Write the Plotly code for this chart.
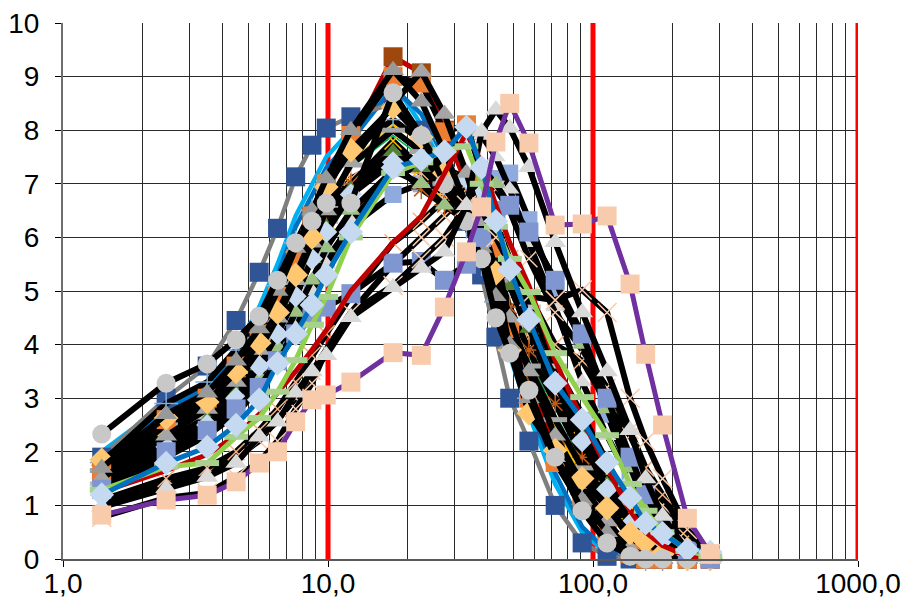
import plotly.graph_objects as go

# Particle size classes (µm) shared by every sample
size_um = [1.4, 2.45, 3.5, 4.5, 5.5, 6.45, 7.55, 8.7, 9.85, 12.2, 17.6, 22.5, 27.5,
           33.3, 38.0, 43.0, 48.5, 57.3, 72.0, 91.0, 113.0, 138.0, 158.0, 183.0, 227.0, 277.0]

# Frequency (%) per size class for each sample
navy_sq = [1.9, 3.0, 3.6, 4.45, 5.35, 6.17, 7.13, 7.72, 8.04, 8.25, 8.5, 8.0, 7.2,
           6.3, 5.3, 4.14, 3.0, 2.2, 1.0, 0.3, 0.05, 0, 0, 0, 0, 0]
gray_circ = [2.33, 3.28, 3.64, 4.09, 4.53, 5.2, 5.9, 6.3, 6.64, 6.64, 8.7, 7.9, 7.0,
             6.3, 5.6, 4.5, 3.84, 3.15, 1.9, 0.9, 0.3, 0.05, 0, 0, 0, 0]
sky_line = [2.0, 2.9, 3.3, 3.9, 4.7, 5.5, 6.4, 7.0, 7.5, 8.0, 8.9, 8.1, 7.3,
            6.5, 5.7, 4.8, 3.8, 2.7, 1.4, 0.5, 0.1, 0, 0, 0, 0, 0]
blue_line = [1.85, 2.8, 3.2, 3.8, 4.5, 5.3, 6.2, 6.8, 7.3, 7.8, 8.8, 8.3, 7.5,
             6.7, 5.9, 5.0, 4.0, 2.9, 1.6, 0.6, 0.15, 0, 0, 0, 0, 0]
gold_dia = [1.85, 2.63, 2.93, 3.49, 4.03, 4.6, 5.3, 6.0, 6.94, 7.63, 8.43, 7.87, 7.2,
            6.4, 5.9, 5.33, 3.9, 2.72, 2.03, 1.5, 0.95, 0.48, 0.32, 0.1, 0, 0]
orange_sq = [1.6, 2.6, 3.0, 3.6, 4.2, 4.9, 5.6, 6.4, 7.0, 7.9, 9.0, 8.88, 7.97,
             8.1, 7.2, 5.8, 4.3, 3.0, 1.8, 1.0, 0.45, 0.1, 0, 0, 0, 0]
brown_sq = [1.5, 2.4, 2.9, 3.4, 4.0, 4.7, 5.4, 6.1, 6.8, 7.8, 9.37, 9.07, 8.0,
            7.0, 6.2, 5.3, 4.3, 3.3, 2.1, 1.2, 0.5, 0.15, 0, 0, 0, 0]
gray_tri = [1.7, 2.7, 3.1, 3.7, 4.3, 5.0, 5.8, 6.5, 7.1, 8.0, 9.12, 8.53, 7.6,
            6.6, 5.8, 4.9, 4.0, 3.0, 1.9, 1.1, 0.5, 0.1, 0, 0, 0, 0]
gray_tri2 = [1.5, 2.3, 2.8, 3.3, 3.9, 4.5, 5.2, 5.9, 6.5, 7.4, 8.5, 9.09, 8.3,
             7.2, 6.3, 5.4, 4.5, 3.5, 2.3, 1.4, 0.7, 0.2, 0.05, 0, 0, 0]
ice_dia = [1.2, 1.79, 2.09, 2.5, 2.97, 3.65, 4.2, 4.74, 5.3, 6.1, 7.3, 7.45, 7.6,
           8.06, 7.3, 6.3, 5.4, 4.46, 3.28, 2.6, 1.8, 1.14, 0.67, 0.48, 0.17, 0.13]
lime_dash = [1.29, 1.72, 1.79, 2.28, 2.63, 3.12, 3.71, 4.37, 4.89, 6.0, 7.2, 7.4, 7.63,
             7.7, 7.0, 6.2, 5.6, 4.98, 3.84, 3.02, 2.31, 1.4, 0.9, 0.5, 0.15, 0.05]
red_line = [1.25, 1.65, 1.95, 2.3, 2.7, 3.1, 3.5, 3.9, 4.27, 5.0, 5.9, 6.4, 7.2,
            7.95, 7.4, 6.6, 5.9, 5.1, 3.7, 2.6, 1.7, 0.9, 0.5, 0.25, 0.05, 0]
pink_sq = [0.82, 1.1, 1.19, 1.44, 1.79, 2.0, 2.56, 2.97, 3.06, 3.3, 3.85, 3.8, 4.7,
           5.73, 6.57, 7.78, 8.5, 7.76, 6.23, 6.25, 6.4, 5.13, 3.82, 2.5, 0.76, 0.1]
low_tri = [0.97, 1.32, 1.53, 1.79, 2.28, 2.56, 3.1, 3.5, 3.8, 4.51, 5.07, 5.43, 5.73,
           6.6, 7.97, 8.38, 8.04, 7.31, 5.91, 4.6, 3.5, 2.4, 1.5, 0.8, 0.15, 0]
low_x = [0.78, 1.14, 1.23, 1.53, 1.81, 2.2, 2.8, 3.28, 3.9, 4.6, 5.1, 5.6, 6.0,
         6.6, 6.5, 6.0, 5.5, 4.9, 4.83, 5.02, 4.6, 3.0, 2.2, 1.5, 0.55, 0.1]
peri_sq = [1.3, 2.0, 2.4, 2.8, 3.2, 3.7, 4.2, 4.5, 4.7, 4.95, 5.52, 5.55, 5.2,
           5.5, 6.0, 6.5, 6.6, 6.1, 5.2, 4.2, 3.0, 1.9, 1.2, 0.6, 0.15, 0]
peri_sq2 = [1.5, 2.2, 2.6, 3.0, 3.4, 3.9, 4.5, 5.1, 5.6, 6.2, 6.8, 7.0, 6.9,
            6.7, 6.9, 7.1, 7.2, 6.33, 5.0, 4.1, 2.7, 1.6, 1.0, 0.5, 0.1, 0]
dash_gray = [1.65, 2.5, 2.95, 3.5, 4.1, 4.8, 5.5, 6.1, 6.6, 7.35, 8.0, 7.6, 7.0,
             6.6, 6.0, 5.2, 4.4, 3.6, 2.6, 1.7, 0.95, 0.4, 0.15, 0.05, 0, 0]
green_tri = [1.45, 2.2, 2.6, 3.1, 3.6, 4.2, 4.9, 5.6, 6.2, 6.9, 7.6, 7.3, 6.95,
             6.3, 5.9, 5.6, 5.1, 4.3, 3.3, 2.3, 1.4, 0.7, 0.3, 0.1, 0, 0]
sage_tri = [1.35, 2.05, 2.45, 2.9, 3.4, 3.95, 4.6, 5.2, 5.8, 6.5, 7.25, 7.0, 6.6,
            6.7, 7.3, 7.0, 6.6, 6.1, 5.2, 4.0, 2.8, 1.7, 1.0, 0.5, 0.1, 0]
orange_star = [1.75, 2.55, 2.9, 3.4, 3.9, 4.5, 5.3, 6.0, 6.5, 7.0, 7.4, 6.9, 6.6,
               6.3, 6.0, 5.5, 4.7, 3.9, 2.9, 1.9, 1.0, 0.4, 0.1, 0, 0, 0]
blue_plus = [1.8, 2.9, 3.3, 3.9, 4.4, 5.1, 5.9, 6.5, 7.0, 7.6, 8.2, 7.8, 7.0,
             6.2, 5.5, 4.8, 3.9, 3.0, 2.0, 1.2, 0.5, 0.1, 0, 0, 0, 0]
gold_x = [1.55, 2.45, 2.85, 3.35, 3.85, 4.4, 5.0, 5.7, 6.3, 7.0, 7.8, 7.3, 6.9,
          6.5, 6.1, 5.7, 5.1, 4.3, 3.4, 2.5, 1.6, 0.9, 0.4, 0.15, 0, 0]
green_thin = [1.6, 2.5, 2.9, 3.45, 4.0, 4.6, 5.3, 6.0, 6.6, 7.3, 7.9, 7.5, 7.0,
              6.5, 6.0, 5.3, 4.6, 3.8, 2.7, 1.8, 1.0, 0.4, 0.1, 0, 0, 0]
silver_dash = [1.4, 2.2, 2.65, 3.2, 3.7, 4.3, 5.0, 5.7, 6.3, 7.0, 7.6, 7.4, 7.1,
               7.0, 6.7, 6.2, 5.6, 4.7, 3.6, 2.7, 1.8, 1.0, 0.5, 0.2, 0.05, 0]
twin_x = [1.1, 1.5, 1.7, 2.0, 2.4, 2.8, 3.3, 3.8, 4.2, 4.9, 5.9, 6.3, 6.7,
          6.9, 6.6, 6.3, 5.6, 4.9, 4.0, 3.7, 2.9, 2.3, 1.7, 1.2, 0.4, 0.05]
apricot_star = [1.5, 2.35, 2.8, 3.3, 3.8, 4.4, 5.2, 5.9, 6.4, 7.1, 7.5, 7.2, 6.8,
                7.0, 6.5, 5.9, 5.1, 4.2, 3.1, 2.1, 1.2, 0.5, 0.2, 0.05, 0, 0]
gold_line = [1.7, 2.7, 3.1, 3.6, 4.2, 4.8, 5.5, 6.2, 6.7, 7.4, 8.1, 7.8, 7.3,
             6.7, 6.1, 5.4, 4.5, 3.6, 2.5, 1.5, 0.7, 0.2, 0, 0, 0, 0]
ice_dia2 = [1.35, 2.1, 2.5, 3.0, 3.6, 4.2, 4.9, 5.6, 6.1, 6.8, 7.4, 7.45, 7.3,
            7.1, 6.8, 6.2, 5.5, 4.5, 3.3, 2.2, 1.3, 0.65, 0.45, 0.35, 0.1, 0.05]
fog_tri = [1.2, 1.9, 2.3, 2.7, 3.2, 3.7, 4.3, 5.0, 5.5, 6.3, 7.2, 7.3, 7.5,
           7.85, 7.9, 7.5, 6.9, 5.9, 4.7, 3.3, 2.3, 1.5, 0.9, 0.4, 0.05, 0]
peach_x2 = [1.0, 1.4, 1.6, 1.9, 2.2, 2.6, 3.0, 3.5, 3.9, 4.6, 5.5, 6.0, 6.4,
            6.8, 6.9, 6.9, 6.5, 5.6, 4.6, 3.9, 3.2, 2.4, 1.7, 1.0, 0.3, 0.05]

# Axis ticks and the class limits drawn as red verticals
x_ticks = [1, 10, 100, 1000]
x_tick_text = ["1,0", "10,0", "100,0", "1000,0"]
limit_x = [10, 100, 1000]
limit_span = [0, 10]

BLACK = "#000000"
LINE_W = 6
OPEN_SYMBOLS = {"line-ew", "x-thin", "cross-thin", "asterisk"}

fig = go.Figure()

# red class limits sit underneath every sample
for lim in limit_x:
    fig.add_trace(go.Scatter(x=[lim, lim], y=limit_span, mode="lines",
                             line=dict(color="#FF0000", width=5),
                             cliponaxis=False, hoverinfo="skip"))


def add_sample(y, line_color, line_width, symbol=None, marker_color=None, open_width=2.0, size=17):
    if symbol is None:
        fig.add_trace(go.Scatter(x=size_um, y=y, mode="lines",
                                 line=dict(color=line_color, width=line_width),
                                 cliponaxis=False, hoverinfo="skip"))
        return
    if symbol in OPEN_SYMBOLS:
        marker = dict(symbol=symbol, size=size, color=marker_color,
                      line=dict(color=marker_color, width=open_width))
    else:
        marker = dict(symbol=symbol, size=size, color=marker_color, line=dict(width=0))
    fig.add_trace(go.Scatter(x=size_um, y=y, mode="lines+markers",
                             line=dict(color=line_color, width=line_width),
                             marker=marker, cliponaxis=False, hoverinfo="skip"))


# thin coloured lines and the outer samples underneath the bundle
add_sample(green_thin, "#00B050", 1.5)
add_sample(gold_line, "#FFC000", 2.5)
add_sample(sky_line, "#00B0F0", 4.5)
add_sample(blue_line, "#0070C0", 4.5)
add_sample(navy_sq, "#7F7F7F", 4.5, "square", "#2F5597", size=19)
add_sample(brown_sq, "#C00000", 5, "square", "#9E480E", size=19)

# black-line samples
add_sample(peri_sq2, BLACK, LINE_W, "square", "#8FAADC")
add_sample(fog_tri, BLACK, LINE_W, "triangle-up", "#D9D9D9")
add_sample(peach_x2, BLACK, LINE_W, "x-thin", "#F8CBAD", 1.5)
add_sample(twin_x, BLACK, LINE_W, "x-thin", "#F4B183", 1.5)
add_sample(silver_dash, BLACK, LINE_W, "line-ew", "#BFBFBF", 5)
add_sample(apricot_star, BLACK, LINE_W, "asterisk", "#F4B183", 1.5)
add_sample(gold_x, BLACK, LINE_W, "x-thin", "#FFC000", 1.5)
add_sample(blue_plus, BLACK, LINE_W, "cross-thin", "#7FAEDC", 1.5)
add_sample(orange_star, BLACK, LINE_W, "asterisk", "#C55A11", 1.5)
add_sample(sage_tri, BLACK, LINE_W, "triangle-up", "#9DC183")
add_sample(green_tri, BLACK, LINE_W, "triangle-up", "#548235")
add_sample(dash_gray, BLACK, LINE_W, "line-ew", "#A5A5A5", 5)
add_sample(ice_dia2, BLACK, LINE_W, "diamond", "#C5D9F1")
add_sample(orange_sq, BLACK, LINE_W, "square", "#ED7D31", size=19)
add_sample(gray_tri2, BLACK, LINE_W, "triangle-up", "#A5A5A5", size=19)
add_sample(gold_dia, BLACK, LINE_W, "diamond", "#FFC870", size=19)
add_sample(gray_tri, BLACK, LINE_W, "triangle-up", "#999999", size=19)
add_sample(gray_circ, BLACK, LINE_W, "circle", "#C8C8C8", size=19)
add_sample(peri_sq, BLACK, LINE_W, "square", "#7F96D0", size=19)
add_sample(low_x, BLACK, LINE_W, "x-thin", "#F8CBAD", 1.5, size=19)
add_sample(low_tri, BLACK, LINE_W, "triangle-up", "#D9D9D9", size=19)

# coloured-line samples on top
add_sample(red_line, "#C00000", 5)
add_sample(lime_dash, "#92D050", 5, "line-ew", "#A9D18E", 6)
add_sample(ice_dia, "#0070C0", 5, "diamond", "#C5D9F1", size=19)
add_sample(pink_sq, "#7030A0", 5, "square", "#F8CBAD", size=19)

tick_font = dict(family="Liberation Sans, Arial, sans-serif", size=28, color="#000000")

fig.update_layout(
    width=903, height=605,
    margin=dict(l=63, r=45, t=23, b=46, autoexpand=False),
    paper_bgcolor="white", plot_bgcolor="white",
    showlegend=False, hovermode=False,
    xaxis=dict(type="log", range=[0, 3], tickvals=x_ticks, ticktext=x_tick_text,
               automargin=False, showgrid=False, zeroline=False,
               minor=dict(dtick="D1", showgrid=True, gridcolor="#2a2a2a", gridwidth=1.2, ticks=""),
               ticks="outside", ticklen=6, tickcolor="#000000", tickwidth=1.2,
               tickfont=tick_font, ticklabelstandoff=-7,
               showline=True, linecolor="#595959", linewidth=1.5),
    yaxis=dict(range=[0, 10], dtick=1, showgrid=True, gridcolor="#2a2a2a", gridwidth=1.2,
               automargin=False, zeroline=False, ticks="outside", ticklen=6,
               tickcolor="#000000", tickwidth=1.2,
               tickfont=tick_font, ticklabelstandoff=10,
               showline=True, linecolor="#6e6e6e", linewidth=2),
)

fig.write_html("out.html")
